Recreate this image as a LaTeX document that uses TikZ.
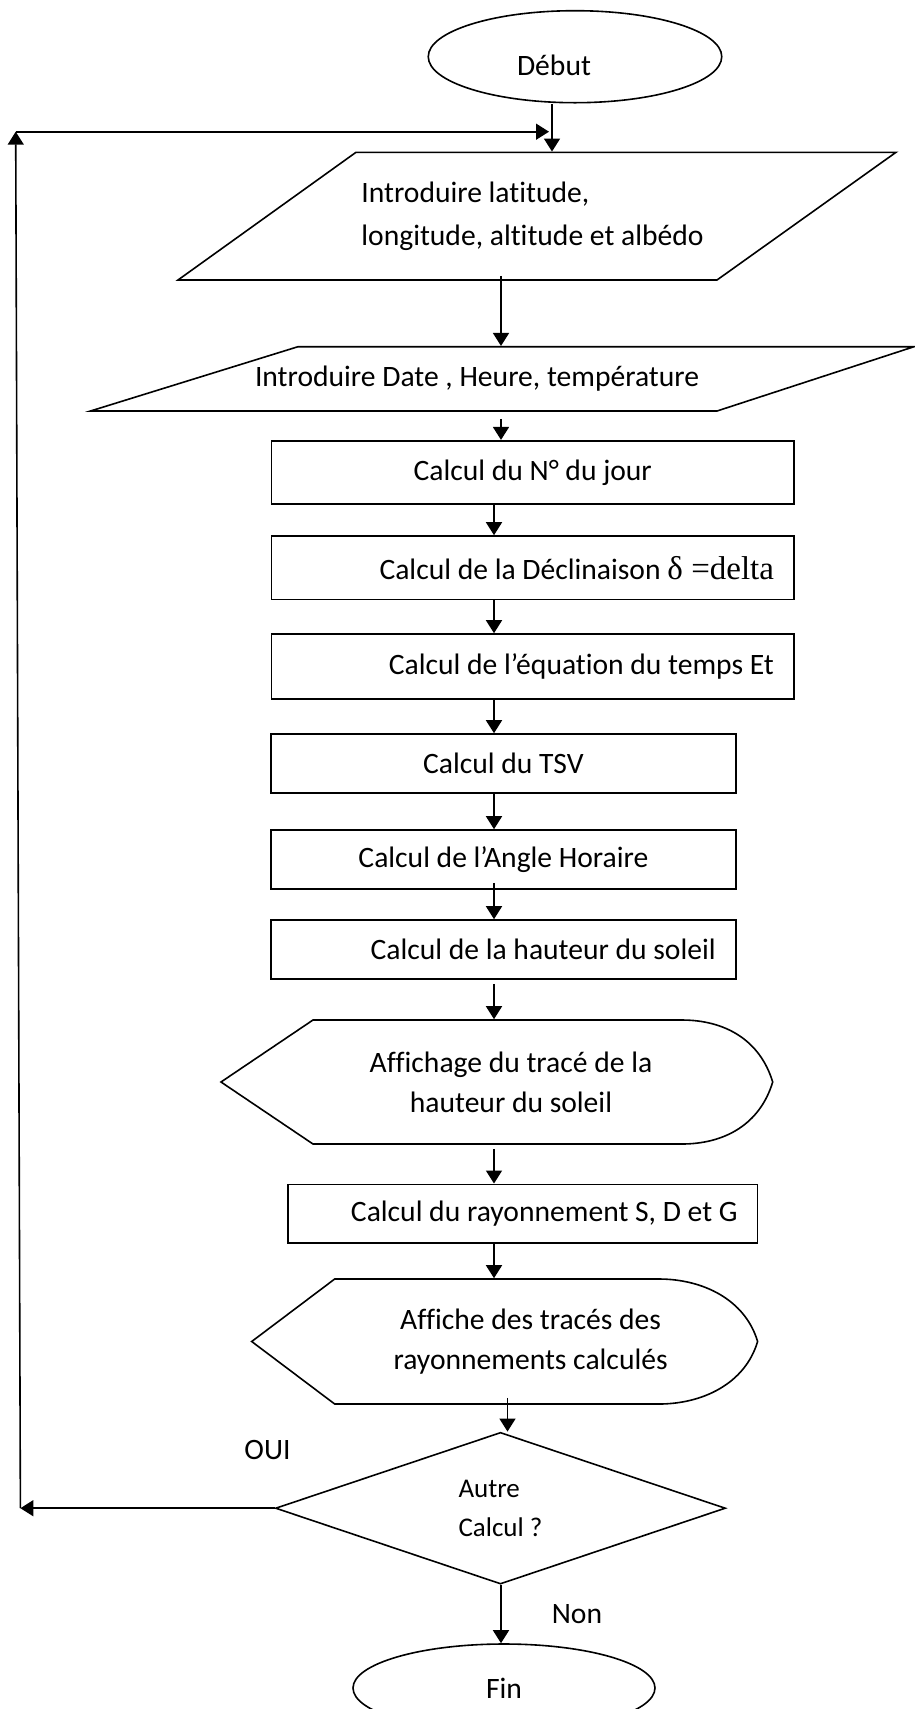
\documentclass[tikz,border=0pt]{standalone}
\usepackage{fontspec}
\setmainfont{Carlito}[Ligatures=NoCommon]
\newfontfamily\timesfont{Liberation Serif}
\usetikzlibrary{
	arrows.meta,
	calc,
	positioning,
	shapes.geometric
}

\begin{document}
\begin{tikzpicture}[x=0.5pt,y=-0.5pt,>={Triangle[length=6.5pt,width=8pt]},
        line width=0.8pt,font=\fontsize{14.8}{20}\selectfont,
        box/.style={draw,rectangle,inner xsep=10pt,inner ysep=0pt},
        term/.style={draw,ellipse,inner sep=0pt},
        shape text/.style={inner sep=0pt}]
        \useasboundingbox (0,0) rectangle (915,1709);
        % x of the vertical arrows
        \coordinate (xa) at (552,0);
        \coordinate (xb) at (501,0);
        \coordinate (xc) at (494,0);
        \coordinate (xd) at (507.5,0);

        \node[term,minimum width=146.75pt,minimum height=46pt] (debut) at (575,56.7) {};
        \node (debuttxt) at (554,65) {Début};

        \node[shape text,align=left,minimum height=63.85pt,
          font=\fontsize{14.8}{21.5}\selectfont] (intro1) at (532.5,216.2)
          {Introduire latitude,\\longitude, altitude et albédo};
        \draw (178,280) -- (356,152.3) -- (896,152.3) -- (717,280) -- cycle;

        \node[shape text,minimum height=32.15pt] (intro2) at (477,378.9)
          {Introduire Date , Heure, température};
        \draw (90.5,411) -- (298,346.7) -- (914,346.7) -- (717,411) -- cycle;

        \node[box,minimum width=261.25pt,minimum height=31.65pt] (jour) at (532.75,472.35)
          {Calcul du N° du jour};
        \node[box,minimum width=261.25pt,minimum height=31.65pt,text width=241.25pt,
          align=flush right] (decl) at (532.75,567.65)
          {Calcul de la Déclinaison\ {\timesfont\fontsize{16.5}{20}\selectfont δ =delta}};
        \node[box,minimum width=261.25pt,minimum height=32.5pt,text width=241.25pt,
          align=flush right] (eqt) at (532.75,666.5) {Calcul de l’équation du temps Et};
        \node[box,minimum width=232.4pt,minimum height=29.35pt] (tsv) at (503.4,763.35)
          {Calcul du TSV};
        \node[box,minimum width=232.4pt,minimum height=29.5pt] (angle) at (503.4,859.5)
          {Calcul de l’Angle Horaire};
        \node[box,minimum width=232.4pt,minimum height=29.5pt,text width=212.4pt,
          align=flush right] (haut) at (503.4,949.5) {Calcul de la hauteur du soleil};

        \node[shape text,align=center,minimum height=62pt] (aff1) at (511,1082)
          {Affichage du tracé de la\\hauteur du soleil};
        \draw (221,1082) -- (313,1020) -- (681.7,1020)
          .. controls (725,1020) and (760,1040) .. (772.7,1082)
          .. controls (760,1124) and (725,1144) .. (681.7,1144) -- (313,1144) -- cycle;

        \node[box,minimum width=234.8pt,minimum height=29.2pt,text width=214.8pt,
          align=flush right] (ray) at (522.8,1213.5) {Calcul du rayonnement S, D et G};

        \node[shape text,align=center,minimum height=62.5pt] (aff2) at (530.6,1341.5)
          {Affiche des tracés des\\rayonnements calculés};
        \draw (251.7,1341.5) -- (334.7,1279) -- (659,1279)
          .. controls (702,1279) and (745,1299) .. (757.6,1341.5)
          .. controls (745,1384) and (702,1404) .. (659,1404) -- (334.7,1404) -- cycle;

        \node[draw,diamond,minimum width=225pt,minimum height=75.85pt,inner sep=0pt,
          align=left,font=\fontsize{13.5}{19.5}\selectfont] (autre) at (500.5,1508.2)
          {Autre\\Calcul ?};

        \node[term,minimum width=151pt,minimum height=44pt] (fin) at (504,1688) {Fin};

        \node (oui) at (267.5,1449.5) {OUI};
        \node (non) at (577,1614.5) {Non};

        \coordinate (loopsw) at (20.4,1508.2);
        \coordinate (loopnw) at (15.7,131.7);

        \draw[->] (debut.south -| xa) -- (intro1.north -| xa);
        \draw[->,shorten <=-2.5pt] (intro1.south -| xb) -- (intro2.north -| xb);
        \draw[->,shorten <=3.5pt] (intro2.south -| xb) -- (jour.north -| xb);
        \draw[->] (jour.south -| xc) -- (decl.north -| xc);
        \draw[->] (decl.south -| xc) -- (eqt.north -| xc);
        \draw[->] (eqt.south -| xc) -- (tsv.north -| xc);
        \draw[->] (tsv.south -| xc) -- (angle.north -| xc);
        \draw[->,shorten <=-3.5pt] (angle.south -| xc) -- (haut.north -| xc);
        \draw[->,shorten <=2pt] (haut.south -| xc) -- (aff1.north -| xc);
        \draw[->,shorten <=2pt] (aff1.south -| xc) -- (ray.north -| xc);
        \draw[->] (ray.south -| xc) -- (aff2.north -| xc);
        \draw[->,shorten <=-3.5pt] (aff2.south -| xd) -- (autre.north -| xd);
        \draw[->] (autre.south -| xb) -- (fin.north -| xb);

        \draw[->] (autre.west) -- (loopsw);
        \draw[->] (loopsw) -- (loopnw);
        \draw[->,shorten >=1.5pt] (loopnw) -- (loopnw -| xa);
\end{tikzpicture}
\end{document}
